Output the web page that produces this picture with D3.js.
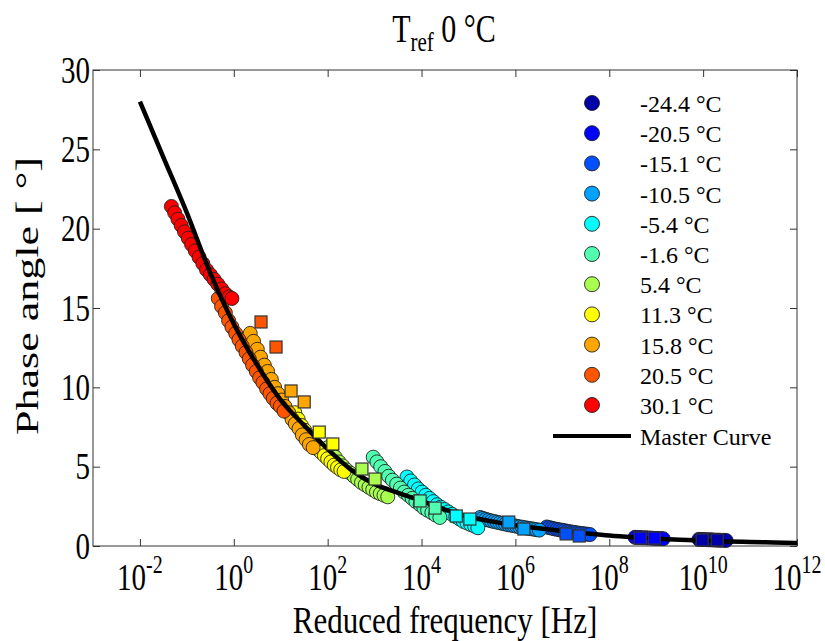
<!DOCTYPE html>
<html><head><meta charset="utf-8">
<script src="https://cdn.jsdelivr.net/npm/d3@7"></script>
<style>
body{margin:0;background:#fff;}
svg text{font-family:"Times New Roman",Times,"Liberation Serif",serif;fill:#000;}
</style></head>
<body>
<svg id="chart" width="825" height="641"></svg>
<script>
// ---- data (log10 of reduced frequency [Hz], phase angle [deg]) ----
const temperatures = ["-24.4 °C","-20.5 °C","-15.1 °C","-10.5 °C","-5.4 °C","-1.6 °C","5.4 °C","11.3 °C","15.8 °C","20.5 °C","30.1 °C"];
const colors = ["#0000a8","#0000ff","#0050ff","#00a2ff","#00ffff","#50ffb0","#a8ff50","#ffff00","#ffa500","#ff5500","#ff0000"];

const circles_m24_4 = [[9.91,0.42],[9.96,0.41],[10.01,0.41],[10.07,0.40],[10.12,0.39],[10.17,0.39],[10.22,0.38],[10.28,0.37],[10.33,0.37],[10.38,0.36],[10.44,0.36],[10.49,0.35]];
const circles_m20_5 = [[8.55,0.55],[8.60,0.54],[8.66,0.53],[8.71,0.52],[8.77,0.52],[8.82,0.51],[8.88,0.50],[8.93,0.49],[8.99,0.48],[9.04,0.48],[9.10,0.47],[9.15,0.46]];
const circles_m15_1 = [[6.67,1.20],[6.72,1.16],[6.78,1.12],[6.83,1.08],[6.89,1.05],[6.94,1.02],[7.00,0.99],[7.05,0.96],[7.11,0.93],[7.16,0.90],[7.22,0.87],[7.27,0.85],[7.33,0.82],[7.38,0.80],[7.43,0.78],[7.49,0.76],[7.54,0.74],[7.59,0.72]];
const circles_m10_5 = [[5.25,1.80],[5.31,1.74],[5.37,1.68],[5.43,1.63],[5.49,1.58],[5.55,1.54],[5.61,1.50],[5.67,1.46],[5.73,1.42],[5.79,1.38],[5.85,1.34],[5.91,1.31],[5.97,1.28],[6.03,1.24],[6.09,1.21],[6.15,1.18],[6.21,1.15],[6.27,1.12],[6.33,1.09],[6.39,1.06],[6.45,1.03],[6.51,1.00]];
const circles_m5_4 = [[3.69,4.35],[3.77,4.10],[3.85,3.85],[3.93,3.60],[4.01,3.40],[4.09,3.20],[4.17,3.00],[4.25,2.80],[4.33,2.60],[4.41,2.45],[4.49,2.30],[4.57,2.15],[4.65,2.00],[4.73,1.85],[4.81,1.70],[4.89,1.55],[4.97,1.45],[5.05,1.35],[5.13,1.25],[5.20,1.15]];
const circles_m1_6 = [[2.97,5.60],[3.05,5.30],[3.13,5.00],[3.22,4.70],[3.30,4.40],[3.38,4.15],[3.47,3.90],[3.55,3.65],[3.63,3.40],[3.72,3.20],[3.80,3.00],[3.88,2.80],[3.97,2.60],[4.05,2.40],[4.13,2.25],[4.22,2.10],[4.30,1.95],[4.39,1.80]];
const circles_p5_4 = [[2.00,6.20],[2.08,5.90],[2.16,5.60],[2.24,5.30],[2.32,5.05],[2.40,4.80],[2.48,4.60],[2.56,4.40],[2.64,4.20],[2.72,4.00],[2.80,3.85],[2.88,3.70],[2.96,3.55],[3.04,3.40],[3.12,3.30],[3.20,3.20],[3.28,3.10]];
const circles_p11_3 = [[1.30,8.40],[1.37,8.00],[1.44,7.60],[1.51,7.30],[1.58,7.00],[1.65,6.70],[1.72,6.40],[1.79,6.10],[1.86,5.90],[1.93,5.70],[2.00,5.50],[2.07,5.30],[2.14,5.10],[2.21,4.95],[2.28,4.80],[2.35,4.70]];
const circles_p15_8 = [[0.35,13.4],[0.42,12.9],[0.50,12.4],[0.57,11.9],[0.65,11.4],[0.72,11.0],[0.80,10.5],[0.87,10.0],[0.94,9.6],[1.02,9.2],[1.09,8.8],[1.17,8.4],[1.24,8.0],[1.31,7.7],[1.39,7.4],[1.46,7.0],[1.54,6.7],[1.61,6.4],[1.69,6.2]];
const circles_p20_5 = [[-0.33,15.6],[-0.26,15.1],[-0.18,14.7],[-0.11,14.2],[-0.04,13.8],[0.04,13.4],[0.11,13.0],[0.18,12.6],[0.26,12.2],[0.33,11.8],[0.40,11.4],[0.48,11.0],[0.55,10.6],[0.62,10.3],[0.70,9.9],[0.77,9.6],[0.84,9.3],[0.92,9.0],[0.99,8.8],[1.07,8.5]];
const circles_p30_1 = [[-1.33,21.4],[-1.26,21.0],[-1.19,20.6],[-1.12,20.2],[-1.05,19.8],[-0.97,19.4],[-0.90,19.0],[-0.82,18.6],[-0.74,18.2],[-0.66,17.8],[-0.58,17.4],[-0.50,17.1],[-0.42,16.8],[-0.34,16.5],[-0.26,16.2],[-0.18,15.9],[-0.10,15.7],[-0.04,15.6]];

const squares_m24_4 = [[9.98,0.38],[10.30,0.38]];
const squares_m20_5 = [[8.66,0.50],[8.96,0.50]];
const squares_m15_1 = [[7.08,0.76],[7.36,0.63]];
const squares_m10_5 = [[5.86,1.51],[6.18,1.07]];
const squares_m5_4 = [[4.74,1.89],[5.03,1.70]];
const squares_m1_6 = [[3.97,2.84],[4.29,2.39]];
const squares_p5_4 = [[2.73,4.85],[3.01,4.22]];
const squares_p11_3 = [[1.82,7.18],[2.11,6.43]];
const squares_p15_8 = [[1.22,9.77],[1.50,9.08]];
const squares_p20_5 = [[0.58,14.12],[0.90,12.54]];
const squares_p30_1 = [];

const masterLogF = [-2.0,-1.5,-1.0,-0.5,0.0,0.5,1.0,1.5,2.0,2.5,3.0,3.5,4.0,4.5,5.0,5.5,6.0,6.5,7.0,7.5,8.0,8.5,9.0,9.5,10.0,10.5,11.0,11.5,12.0];
const masterPhase = [28.0,24.5,21.0,17.2,14.0,11.4,9.2,7.6,6.1,4.8,3.9,3.35,2.85,2.3,1.85,1.55,1.3,1.12,0.95,0.8,0.66,0.55,0.46,0.39,0.34,0.29,0.25,0.22,0.19];

const xTickExponents = [-2,0,2,4,6,8,10,12];
const yTicks = [0,5,10,15,20,25,30];

const circleSets = [circles_m24_4,circles_m20_5,circles_m15_1,circles_m10_5,circles_m5_4,circles_m1_6,circles_p5_4,circles_p11_3,circles_p15_8,circles_p20_5,circles_p30_1];
const squareSets = [squares_m24_4,squares_m20_5,squares_m15_1,squares_m10_5,squares_m5_4,squares_m1_6,squares_p5_4,squares_p11_3,squares_p15_8,squares_p20_5,squares_p30_1];

// ---- layout ----
const L=93, R=797, T=70, B=546;
const S=1.3; // vertical stretch of the reference's axis text
const svg = d3.select("#chart");
const x = d3.scaleLog().domain([1e-3,1e12]).range([L,R]);
const y = d3.scaleLinear().domain([0,30]).range([B,T]);
const fx = lf => x(Math.pow(10,lf));

svg.append("rect").attr("x",L).attr("y",T).attr("width",R-L).attr("height",B-T)
  .attr("fill","none").attr("stroke","#333").attr("stroke-width",1);

const xt = xTickExponents.map(e=>Math.pow(10,e));
const axB = svg.append("g").attr("transform",`translate(0,${B})`)
  .call(d3.axisBottom(x).tickValues(xt).tickSize(-7).tickFormat(""));
const axT = svg.append("g").attr("transform",`translate(0,${T})`)
  .call(d3.axisTop(x).tickValues(xt).tickSize(-7).tickFormat(""));
const axL = svg.append("g").attr("transform",`translate(${L},0)`)
  .call(d3.axisLeft(y).tickValues(yTicks).tickSize(-7).tickFormat(""));
const axR = svg.append("g").attr("transform",`translate(${R},0)`)
  .call(d3.axisRight(y).tickValues(yTicks).tickSize(-7).tickFormat(""));
[axB,axT,axL,axR].forEach(g=>{g.select(".domain").remove();g.selectAll("line").attr("stroke","#333");});

// x tick labels (10^n), whole label centred on the tick
xTickExponents.forEach(e=>{
  const t = svg.append("text")
    .attr("transform",`translate(${x(Math.pow(10,e))},590) scale(1,${S})`)
    .attr("text-anchor","middle").style("font-size","29px");
  t.append("tspan").text("10");
  t.append("tspan").attr("dy",-13).style("font-size","20px").text(String(e));
});
// y tick labels
yTicks.forEach(v=>{
  svg.append("text").attr("transform",`translate(${L-3},${y(v)+12.5}) scale(1,${S})`)
    .attr("text-anchor","end").style("font-size","29px").text(v);
});

// axis labels
svg.append("text").attr("transform",`translate(${(L+R)/2},633) scale(1,1.22)`)
  .attr("text-anchor","middle").style("font-size","31px").text("Reduced frequency [Hz]");
svg.append("text").attr("transform",`translate(38,296) rotate(-90) scale(1.42,1)`)
  .attr("text-anchor","middle").style("font-size","31px").text("Phase angle [ °]");

// title
const title = svg.append("text").attr("transform",`translate(444,42) scale(1,${S})`)
  .attr("text-anchor","middle").style("font-size","30px");
title.append("tspan").text("T");
title.append("tspan").attr("dy",7).style("font-size","21px").text("ref");
title.append("tspan").attr("dy",-7).text(" 0 °C");

// measurement circles
const gC = svg.append("g");
circleSets.forEach((set,i)=>{
  gC.selectAll(null).data(set).enter().append("circle")
    .attr("cx",d=>fx(d[0])).attr("cy",d=>y(d[1])).attr("r",7)
    .attr("fill",colors[i]).attr("stroke","#222").attr("stroke-width",0.9);
});

// master curve
const line = d3.line().x(d=>fx(d[0])).y(d=>y(d[1])).curve(d3.curveMonotoneX);
svg.append("path").datum(masterLogF.map((v,i)=>[v,masterPhase[i]]))
  .attr("d",line).attr("fill","none").attr("stroke","#000").attr("stroke-width",4.5);

// squares
const gS = svg.append("g");
const sq = 12;
squareSets.forEach((set,i)=>{
  gS.selectAll(null).data(set).enter().append("rect")
    .attr("x",d=>fx(d[0])-sq/2).attr("y",d=>y(d[1])-sq/2).attr("width",sq).attr("height",sq)
    .attr("fill",colors[i]).attr("stroke","#333").attr("stroke-width",1.2);
});

// legend
const lg = svg.append("g");
temperatures.forEach((t,i)=>{
  const cy = 103 + i*30.2;
  lg.append("circle").attr("cx",592).attr("cy",cy).attr("r",7.5)
    .attr("fill",colors[i]).attr("stroke","#222").attr("stroke-width",0.9);
  lg.append("text").attr("x",640).attr("y",cy+9).style("font-size","24px").text(t);
});
lg.append("line").attr("x1",553).attr("x2",631).attr("y1",436).attr("y2",436)
  .attr("stroke","#000").attr("stroke-width",4);
lg.append("text").attr("x",640).attr("y",445).style("font-size","24px").text("Master Curve");
</script>
</body></html>
